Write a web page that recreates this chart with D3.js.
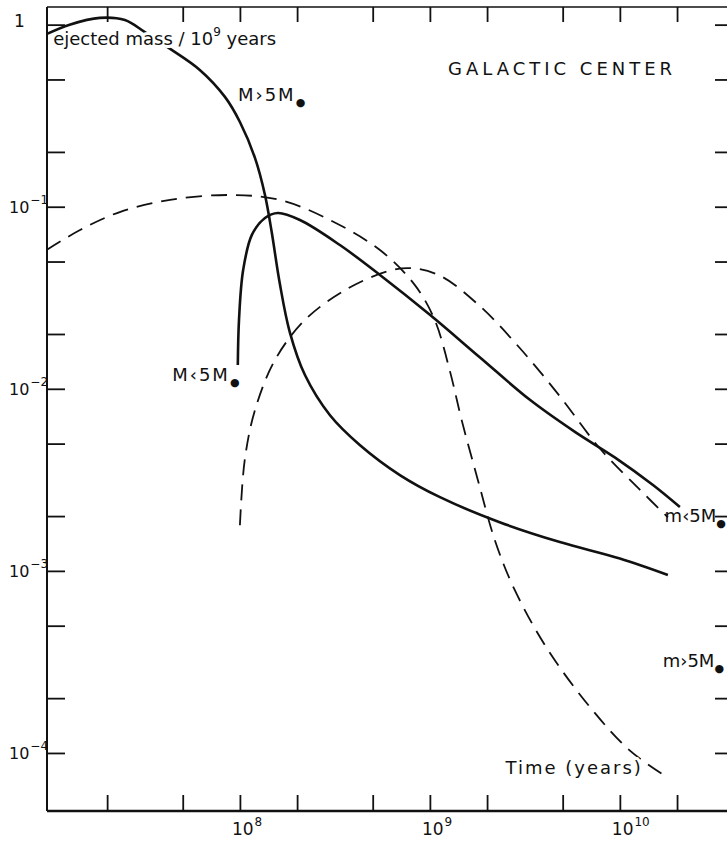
<!DOCTYPE html>
<html>
<head>
<meta charset="utf-8">
<script src="https://cdn.jsdelivr.net/npm/d3@7"></script>
<style>
    html, body { margin: 0; padding: 0; background: #fff; }
    svg { display: block; }
    .lbl { font-family: "DejaVu Sans", sans-serif; fill: #111; }
    .halo { stroke: #fff; stroke-width: 6px; paint-order: stroke; stroke-linejoin: round; }
</style>
</head>
<body>
<div id="chart"></div>
<script>
"use strict";

// ejected mass per 10^9 years vs time (years), log-log
const bigSolidT = [9.65e6, 1.27e7, 1.83e7, 2.48e7, 3.16e7, 4.18e7, 6.15e7, 8.34e7, 1.0e8, 1.2e8, 1.355e8, 1.47e8,
    1.62e8, 1.83e8, 2.2e8, 2.98e8, 4.29e8, 6.95e8, 1.13e9, 2.33e9, 4.83e9, 1.0e10, 1.79e10];
const bigSolidV = [0.89, 1.0, 1.09, 1.06, 0.91, 0.75, 0.564, 0.401, 0.292, 0.1855, 0.116, 0.0726,
    0.0381, 0.0205, 0.0119, 0.00716, 0.0049, 0.00336, 0.00254, 0.00185, 0.00144, 0.00117, 0.00095];

const smallSolidT = [9.75e7, 9.89e7, 1.04e8, 1.156e8, 1.355e8, 1.585e8, 2.07e8, 3.36e8, 5.46e8, 1.0e9,
    1.83e9, 3.36e9, 5.8e9, 9.4e9, 1.5e10, 2.07e10];
const smallSolidV = [0.0135, 0.0239, 0.0449, 0.070, 0.0867, 0.0923, 0.0845, 0.0616, 0.0422, 0.0255,
    0.0149, 0.0087, 0.0058, 0.0042, 0.00295, 0.00224];

const bigDashT = [9.65e6, 1.44e7, 2.33e7, 4.29e7, 8.85e7, 1.62e8, 2.98e8, 5.46e8, 8.34e8, 1.06e9, 1.27e9,
    1.47e9, 1.79e9, 2.2e9, 2.8e9, 4.2e9, 7.2e9, 1.13e10, 1.66e10];
const bigDashV = [0.058, 0.0745, 0.0935, 0.109, 0.116, 0.109, 0.0845, 0.0578, 0.0371, 0.0239, 0.0127,
    0.00673, 0.00315, 0.00147, 0.000783, 0.000366, 0.000171, 0.000103, 0.000077];

const smallDashT = [1.0e8, 1.06e8, 1.2e8, 1.53e8, 2.2e8, 3.57e8, 5.79e8, 7.85e8, 1.13e9, 1.83e9, 2.98e9,
    4.83e9, 7.85e9, 1.27e10, 1.79e10];
const smallDashV = [0.00178, 0.00406, 0.00763, 0.0144, 0.0239, 0.0348, 0.0437, 0.046, 0.0418, 0.0285,
    0.0167, 0.0091, 0.0047, 0.0028, 0.00197];

const xTicks = [2e7, 5e7, 1e8, 2e8, 5e8, 1e9, 2e9, 5e9, 1e10, 2e10];
const xLabelled = [8, 9, 10];
const yTicks = [1, 0.5, 0.2, 0.1, 0.05, 0.02, 0.01, 5e-3, 2e-3, 1e-3, 5e-4, 2e-4, 1e-4];
const yLabelled = [0, -1, -2, -3, -4];

const width = 727, height = 841;

const svg = d3.select("#chart")
    .append("svg")
    .attr("width", width)
    .attr("height", height);

const x = d3.scaleLog()
    .domain([9.65e6, 3.8e10])
    .range([47, 730]);
const y = d3.scaleLog()
    .domain([4.8e-5, 1.25])
    .range([811, 7]);

const ink = "#111";

// frame
const x0 = x.range()[0], x1 = x.range()[1], yb = y.range()[0], yt = y.range()[1];
svg.append("line").attr("x1", x0).attr("x2", x1).attr("y1", yb).attr("y2", yb)
    .attr("stroke", ink).attr("stroke-width", 2.4);
svg.append("line").attr("x1", x0).attr("x2", x1).attr("y1", yt).attr("y2", yt)
    .attr("stroke", ink).attr("stroke-width", 1.4);
svg.append("line").attr("x1", x0).attr("x2", x0).attr("y1", yt).attr("y2", yb)
    .attr("stroke", ink).attr("stroke-width", 2);

// ticks, all pointing inwards
const axisBottom = d3.axisBottom(x).tickValues(xTicks).tickSize(-16).tickFormat("");
const axisTop = d3.axisTop(x).tickValues(xTicks).tickSize(-15).tickFormat("");
const axisLeft = d3.axisLeft(y).tickValues(yTicks).tickSize(-18).tickFormat("");
const axisRight = d3.axisRight(y).tickValues(yTicks).tickSize(-15).tickFormat("");

function addAxis(axis, tx, ty) {
    const g = svg.append("g")
        .attr("transform", `translate(${tx},${ty})`)
        .call(axis);
    g.select(".domain").remove();
    g.selectAll(".tick line").attr("stroke", ink).attr("stroke-width", 1.8);
    return g;
}
addAxis(axisBottom, 0, yb);
addAxis(axisTop, 0, yt);
addAxis(axisLeft, x0, 0);
addAxis(axisRight, x1, 0);

// power-of-ten labels
function powerLabel(sel, exp, big, small) {
    sel.append("tspan").text("10").attr("font-size", big);
    sel.append("tspan").text(exp).attr("font-size", small).attr("dy", -9).attr("dx", 1);
}

xLabelled.forEach(e => {
    const t = svg.append("text")
        .attr("class", "lbl")
        .attr("x", x(Math.pow(10, e)) - 8)
        .attr("y", yb + 24);
    powerLabel(t, String(e), 17, 12);
});

yLabelled.forEach(e => {
    const t = svg.append("text")
        .attr("class", "lbl")
        .attr("x", 9)
        .attr("y", y(Math.pow(10, e)) + 6);
    if (e === 0) {
        t.attr("x", 14).attr("y", y(1) + 2).attr("font-size", 17).text("1");
    } else {
        powerLabel(t, "\u2212" + (-e), 16, 12);
    }
});

// curves
const line = d3.line()
    .x(d => x(d[0]))
    .y(d => y(d[1]))
    .curve(d3.curveCatmullRom.alpha(0.5));

function addCurve(ts, vs, dashed) {
    svg.append("path")
        .datum(d3.zip(ts, vs))
        .attr("fill", "none")
        .attr("stroke", ink)
        .attr("stroke-width", dashed ? 1.8 : 2.6)
        .attr("stroke-dasharray", dashed ? "16,9" : null)
        .attr("d", line);
}
addCurve(bigDashT, bigDashV, true);
addCurve(smallDashT, smallDashV, true);
addCurve(smallSolidT, smallSolidV, false);
addCurve(bigSolidT, bigSolidV, false);

// annotations
function massLabel(tx, vy, first, spacing) {
    const t = svg.append("text")
        .attr("class", "lbl")
        .attr("x", x(tx))
        .attr("y", y(vy))
        .attr("font-size", 18)
        .attr("letter-spacing", spacing);
    t.append("tspan").text(first);
    t.append("tspan").text("\u25CF").attr("font-size", 11).attr("dy", 5).attr("dx", 0);
    return t;
}

const title = svg.append("text")
    .attr("class", "lbl halo")
    .attr("x", x(1.04e7))
    .attr("y", y(0.774))
    .attr("font-size", 18);
title.append("tspan").text("ejected mass / 10");
title.append("tspan").text("9").attr("font-size", 12).attr("dy", -9);
title.append("tspan").text(" years").attr("dy", 9);

svg.append("text")
    .attr("class", "lbl")
    .attr("x", x(1.245e9))
    .attr("y", y(0.53))
    .attr("font-size", 18)
    .attr("letter-spacing", 4)
    .text("GALACTIC CENTER");

massLabel(9.76e7, 0.381, "M\u203A5M", 2);
massLabel(4.4e7, 0.011, "M\u20395M", 2);
massLabel(1.72e10, 0.00185, "m\u20395M", 0);
massLabel(1.68e10, 0.000295, "m\u203A5M", 0);

svg.append("text")
    .attr("class", "lbl halo")
    .attr("x", x(2.5e9))
    .attr("y", y(7.7e-5))
    .attr("font-size", 18)
    .attr("letter-spacing", 2)
    .text("Time (years)");
</script>
</body>
</html>
